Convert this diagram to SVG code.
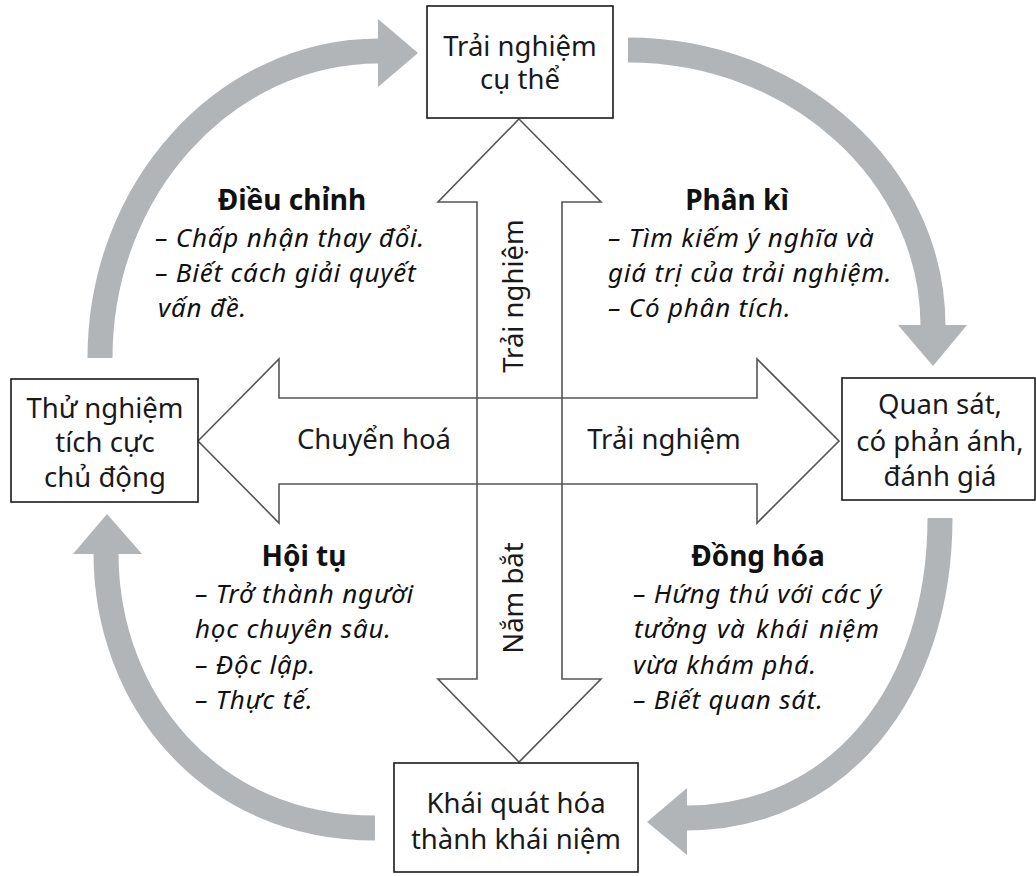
<svg xmlns="http://www.w3.org/2000/svg" width="1036" height="876" viewBox="0 0 1036 876">
<style>
.box{fill:#fff;stroke:#1a1a1a;stroke-width:1.6}
.t{font-family:"Noto Sans","Open Sans",sans-serif;font-size:27.5px;fill:#1a1a1a}
.c{text-anchor:middle}
.b{font-family:"Noto Sans","Open Sans",sans-serif;font-size:28px;font-weight:bold;fill:#111;text-anchor:middle}
.i{font-family:"Noto Sans","Open Sans",sans-serif;font-size:26px;letter-spacing:0.8px;font-style:italic;fill:#111}
.arc{fill:none;stroke:#b2b5b8;stroke-width:25}
.head{fill:#b2b5b8}
.big{fill:none;stroke:#555;stroke-width:1.6;stroke-linejoin:miter}
</style>
<rect width="1036" height="876" fill="#fff"/>
<g id="connectors">
  <path class="arc" d="M100,358 C100,189 225,51 379,51"/>
  <polygon class="head" points="378,19 378,87 418,53"/>
  <path class="arc" d="M628,50 C796,50 933,174 933,326"/>
  <polygon class="head" points="898,325 967,325 933,366"/>
  <path class="arc" d="M940,518 C940,690 840,818 686,818"/>
  <polygon class="head" points="687,788 687,855 647,822"/>
  <path class="arc" d="M375,828 C210,828 106,700 106,553"/>
  <polygon class="head" points="73,554 142,554 107,514"/>
  <polygon class="big" points="519,119 601,202 562,202 562,679 601,679 519,762 438,679 477,679 477,202 438,202"/>
  <polygon class="big" points="198,441 279,359 279,398 757,398 757,359 839,441 757,523 757,484 279,484 279,523"/>
  <text class="t c" x="374" y="449">Chuyển hoá</text>
  <text class="t c" x="664" y="449">Trải nghiệm</text>
  <text class="t c" transform="translate(523,296) rotate(-90)">Trải nghiệm</text>
  <text class="t c" transform="translate(523,598) rotate(-90)">Nắm bắt</text>
</g>
<g id="top">
  <rect class="box" x="427" y="6" width="186" height="112"/>
  <text class="t c" x="520" y="56">Trải nghiệm</text>
  <text class="t c" x="520" y="89">cụ thể</text>
</g>
<g id="left">
  <rect class="box" x="11" y="379" width="187" height="123"/>
  <text class="t c" x="105" y="418">Thử nghiệm</text>
  <text class="t c" x="105" y="452">tích cực</text>
  <text class="t c" x="105" y="487">chủ động</text>
</g>
<g id="right">
  <rect class="box" x="842" y="378" width="193" height="122"/>
  <text class="t c" x="940" y="414">Quan sát,</text>
  <text class="t c" x="940" y="451">có phản ánh,</text>
  <text class="t c" x="940" y="486">đánh giá</text>
</g>
<g id="bottom">
  <rect class="box" x="394" y="763" width="244" height="109"/>
  <text class="t c" x="516" y="813">Khái quát hóa</text>
  <text class="t c" x="516" y="849">thành khái niệm</text>
</g>
<g id="dieu-chinh">
  <text class="b" x="292" y="210">Điều chỉnh</text>
  <text class="i" x="155" y="247">– Chấp nhận thay đổi.</text>
  <text class="i" x="155" y="282">– Biết cách giải quyết</text>
  <text class="i" x="158" y="317">vấn đề.</text>
</g>
<g id="phan-ki">
  <text class="b" x="737" y="210">Phân kì</text>
  <text class="i" x="608" y="247">– Tìm kiếm ý nghĩa và</text>
  <text class="i" x="608" y="282">giá trị của trải nghiệm.</text>
  <text class="i" x="608" y="317">– Có phân tích.</text>
</g>
<g id="hoi-tu">
  <text class="b" x="304" y="566">Hội tụ</text>
  <text class="i" x="195" y="603">– Trở thành người</text>
  <text class="i" x="195" y="638">học chuyên sâu.</text>
  <text class="i" x="195" y="674">– Độc lập.</text>
  <text class="i" x="195" y="709">– Thực tế.</text>
</g>
<g id="dong-hoa">
  <text class="b" x="758" y="566">Đồng hóa</text>
  <text class="i" x="633" y="603">– Hứng thú với các ý</text>
  <text class="i" y="638"><tspan x="634">tưởng</tspan><tspan x="717">và</tspan><tspan x="756">khái</tspan><tspan x="819">niệm</tspan></text>
  <text class="i" x="633" y="674">vừa khám phá.</text>
  <text class="i" x="633" y="709">– Biết quan sát.</text>
</g>
</svg>
